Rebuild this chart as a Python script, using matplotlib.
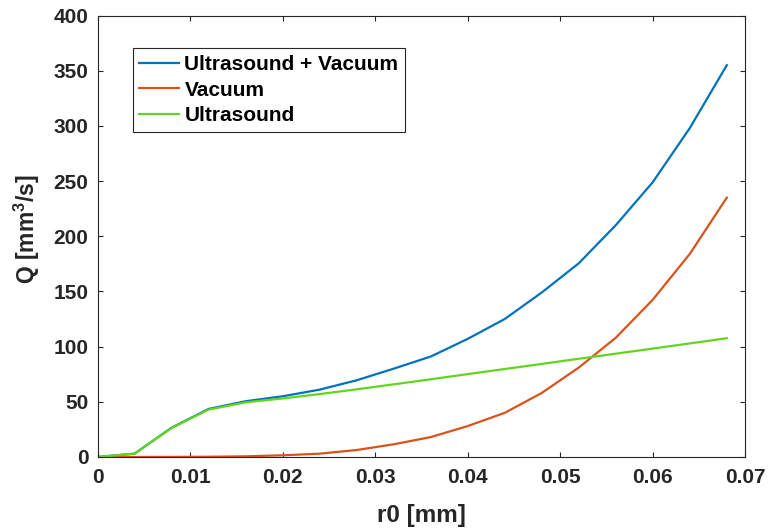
import numpy as np
import matplotlib
matplotlib.use('Agg')
import matplotlib.pyplot as plt

plt.rcParams['font.family'] = ['Liberation Sans', 'DejaVu Sans']
plt.rcParams['font.weight'] = 'bold'
plt.rcParams['axes.labelweight'] = 'bold'
plt.rcParams['mathtext.fontset'] = 'custom'
plt.rcParams['mathtext.rm'] = 'Liberation Sans:bold'
plt.rcParams['mathtext.bf'] = 'Liberation Sans:bold'
plt.rcParams['mathtext.default'] = 'bf'

# flow rate Q vs pore radius r0
r0 = [0.000, 0.004, 0.008, 0.012, 0.016, 0.020, 0.024, 0.028, 0.032,
      0.036, 0.040, 0.044, 0.048, 0.052, 0.056, 0.060, 0.064, 0.068]
q_both = [0, 3, 26.5, 43.5, 50.5, 55, 61, 69.5, 80,
          91, 107, 125, 149, 175.5, 210, 249, 298, 355]
q_vac = [0, 0, 0.05, 0.2, 0.6, 1.5, 3, 6.3, 11.5,
         18, 28, 40, 58, 81, 108, 142.5, 184, 235]
q_us = [0, 3, 26.2, 42.9, 49.5, 53, 57, 61.3, 65.8,
        70.4, 75.1, 79.7, 84.3, 89.0, 93.6, 98.2, 102.9, 107.6]
names = ['Ultrasound + Vacuum', 'Vacuum', 'Ultrasound']
colours = ['#0072BD', '#D95319', '#63D51F']

fig = plt.figure(figsize=(7.71, 5.31), dpi=100)
ax = fig.add_axes([0.1265, 0.1394, 0.8402, 0.8314])

for q, name, c in zip([q_both, q_vac, q_us], names, colours):
    ax.plot(r0, q, color=c, lw=1.6, label=name)

ax.set_xlim(0, 0.07)
ax.set_ylim(0, 400)
ax.set_xticks(np.arange(0, 0.071, 0.01))
ax.set_xticklabels(['0', '0.01', '0.02', '0.03', '0.04', '0.05', '0.06', '0.07'])
ax.set_yticks(np.arange(0, 401, 50))

axcol = '#262626'
for s in ax.spines.values():
    s.set_color(axcol)
    s.set_linewidth(0.8)
ax.tick_params(direction='in', length=3.6, width=0.8, color=axcol,
               labelcolor=axcol, labelsize=15, top=True, right=True)
ax.tick_params(axis='x', pad=8)
ax.tick_params(axis='y', pad=6.5)

ax.set_xlabel('r0 [mm]', fontsize=17.5, color=axcol, labelpad=12)
ax.set_ylabel('Q [mm$^{3}$/s]', fontsize=16.5, color=axcol)
ax.yaxis.set_label_coords(-0.086, 0.516)

leg = ax.legend(loc='upper left', bbox_to_anchor=(0.0543, 0.926), borderaxespad=0,
                fontsize=15, handlelength=1.92, handletextpad=0.24, borderpad=0.32,
                labelspacing=0.32, fancybox=False, framealpha=1, edgecolor=axcol)
leg.get_frame().set_linewidth(0.8)
for t in leg.get_texts():
    t.set_color('black')

fig.savefig('out.png', dpi=100)
